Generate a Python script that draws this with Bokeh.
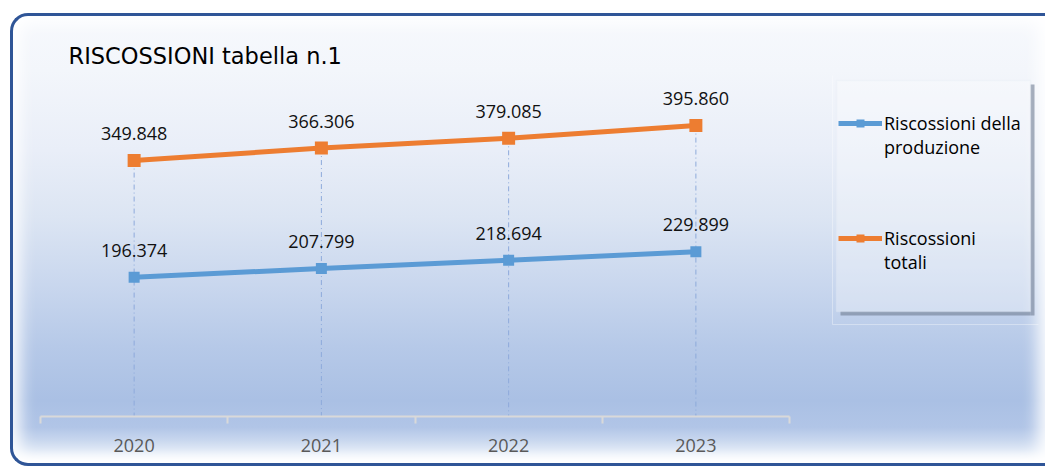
from bokeh.plotting import figure
from bokeh.models import (Range1d, FixedTicker, Legend, LegendItem, LabelSet,
                          ColumnDataSource, BoxAnnotation)
from bokeh.core.properties import value
from bokeh.embed import file_html
from bokeh.resources import INLINE

# ---- data ----
years = ["2020", "2021", "2022", "2023"]
produzione = [196374, 207799, 218694, 229899]
totali = [349848, 366306, 379085, 395860]
series_labels = [["Riscossioni della", "produzione"], ["Riscossioni", "totali"]]
title_text = "RISCOSSIONI tabella n.1"

BLUE = "#5b9bd5"
ORANGE = "#ed7d31"
FONT = "Open Sans"

def it_fmt(v):
    return f"{v:,}".replace(",", ".")

xs = [i + 1 for i in range(len(years))]
Y0, Y1 = 13300, 461700

src = ColumnDataSource(dict(
    x=xs,
    prod=produzione,
    tot=totali,
    base=[Y0] * len(xs),
    prod_lbl=[it_fmt(v) for v in produzione],
    tot_lbl=[it_fmt(v) for v in totali],
))

W, H = 1035, 453
ML, MR, MT, MB = 27, 10, 59, 53
frame_w = W - ML - MR
x_end = 0.5 + frame_w / 187.25

p = figure(width=W, height=H, x_range=Range1d(0.5, x_end), y_range=Range1d(Y0, Y1),
           output_backend="svg", toolbar_location=None, y_axis_location=None,
           min_border_left=ML, min_border_right=MR, min_border_top=MT, min_border_bottom=MB)
p.margin = (13, 0, 0, 10)
p.background_fill_color = None
p.border_fill_color = None
p.outline_line_color = None
p.grid.visible = False
p.styles = {
    "border": "3px solid #2f5597",
    "border-right": "none",
    "border-radius": "18px 0 0 18px",
    "background": "linear-gradient(to bottom, #f7f9fd 0%, #f3f6fb 12%, #e9eef8 30%, #dce5f3 45%, #c9d7ee 60%, #b6c9e8 74%, #aac0e4 86%, #b1c5e7 92%, #d9e4f4 97%, #ffffff 100%)",
    "box-shadow": "inset 0 0 16px 7px rgba(255,255,255,0.95)",
}

# title
p.title.text = title_text
p.title.align = "left"
p.title.offset = 28
p.title.text_font = "DejaVu Sans"
p.title.text_font_size = "22.5px"
p.title.text_font_style = "normal"
p.title.text_color = "#000000"
p.title.standoff = 14

# drop lines
p.segment(x0="x", y0="tot", x1="x", y1="base", source=src, line_color="#8eaadb",
          line_width=1, line_dash="5 3 1 3")

# series
bl = p.line("x", "prod", source=src, line_color=BLUE, line_width=5)
bs = p.scatter("x", "prod", source=src, marker="square", size=11, fill_color=BLUE, line_color=None)
ol = p.line("x", "tot", source=src, line_color=ORANGE, line_width=5)
osc = p.scatter("x", "tot", source=src, marker="square", size=13, fill_color=ORANGE, line_color=None)

for col, lab in (("prod", "prod_lbl"), ("tot", "tot_lbl")):
    p.add_layout(LabelSet(x="x", y=col, text=lab, source=src, y_offset=27,
                          text_align="center", text_baseline="middle",
                          text_font=value(FONT), text_font_size="18px", text_color="#111111"))

# x axis
bounds = [x - 0.5 for x in xs] + [xs[-1] + 0.5]
ax = p.xaxis[0]
ax.ticker = FixedTicker(ticks=xs, minor_ticks=bounds)
ax.major_label_overrides = {x: y for x, y in zip(xs, years)}
ax.bounds = (bounds[0], bounds[-1])
ax.axis_line_color = "#d9d9d9"
ax.axis_line_width = 2
ax.major_tick_line_color = None
ax.major_tick_out = 0
ax.major_tick_in = 0
ax.minor_tick_line_color = "#d9d9d9"
ax.minor_tick_line_width = 2
ax.minor_tick_out = 7
ax.minor_tick_in = 0
ax.major_label_standoff = 15
ax.major_label_text_font = FONT
ax.major_label_text_font_size = "18px"
ax.major_label_text_color = "#595959"

# legend box decoration (canvas units)
def cbox(l, r, t, b, **kw):
    return BoxAnnotation(left=l, right=r, top=t, bottom=b,
                         left_units="canvas", right_units="canvas",
                         top_units="canvas", bottom_units="canvas", **kw)

p.add_layout(cbox(816, 1026, 44, 305, fill_alpha=0, line_color="#ffffff", line_alpha=0.35, line_width=1))
p.add_layout(cbox(1014, 1018, 65, 296, fill_color="#6f7d92", fill_alpha=0.6, line_color=None))
p.add_layout(cbox(824, 1014, 292, 296, fill_color="#6f7d92", fill_alpha=0.6, line_color=None))
p.add_layout(cbox(820, 1014, 61, 292, fill_color="#ffffff", fill_alpha=0.3,
                  line_color="#e3eaf6", line_width=1.5))

def make_legend(renderers, lines, loc):
    lg = Legend(items=[LegendItem(label=lines[0], renderers=renderers),
                       LegendItem(label=lines[1], renderers=[])],
                location=loc)
    lg.glyph_width = 44
    lg.glyph_height = 20
    lg.label_standoff = 2
    lg.padding = 0
    lg.spacing = 0
    lg.margin = 0
    lg.border_line_color = None
    lg.background_fill_alpha = 0
    lg.label_text_font = FONT
    lg.label_text_font_size = "18px"
    lg.label_text_color = "#000000"
    return lg

p.add_layout(make_legend([bl, bs], series_labels[0], (798, 257)))
p.add_layout(make_legend([ol, osc], series_labels[1], (798, 142)))

open("out.html", "w").write(file_html(p, INLINE))
